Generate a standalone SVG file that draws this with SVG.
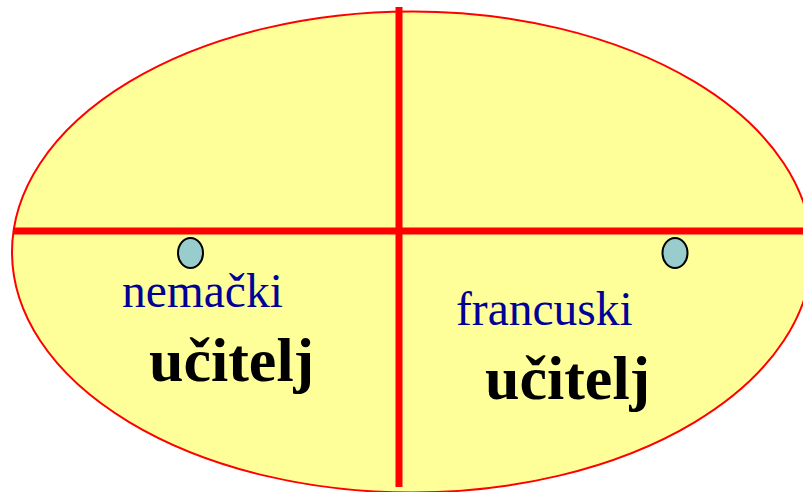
<svg xmlns="http://www.w3.org/2000/svg" width="803" height="492" viewBox="0 0 803 492">
<style>
.bar{stroke:#FF0000;stroke-width:7;fill:none}
.dot{fill:#99CCCC;stroke:#000;stroke-width:2}
.lang{font-family:"Liberation Serif","Times New Roman",serif;font-size:47.5px;fill:#000099}
.noun{font-family:"Liberation Serif","Times New Roman",serif;font-size:62px;font-weight:bold;fill:#000}
</style>
<rect width="803" height="492" fill="#FFFFFF"/>
<g id="ellipse">
<ellipse cx="412" cy="252" rx="400" ry="240.5" fill="#FFFF99" stroke="#FF0000" stroke-width="2"/>
</g>
<g id="connectors">
<line class="bar" x1="399" y1="7" x2="399" y2="487"/>
<line class="bar" x1="13" y1="231" x2="803" y2="231"/>
</g>
<g id="node-left">
<ellipse class="dot" cx="190.5" cy="253" rx="12.5" ry="15"/>
<text class="lang" x="122" y="307">nemački</text>
<text class="noun" x="149" y="381">učitelj</text>
</g>
<g id="node-right">
<ellipse class="dot" cx="675" cy="253" rx="12.5" ry="15"/>
<text class="lang" x="456" y="325">francuski</text>
<text class="noun" x="485" y="399">učitelj</text>
</g>
</svg>
